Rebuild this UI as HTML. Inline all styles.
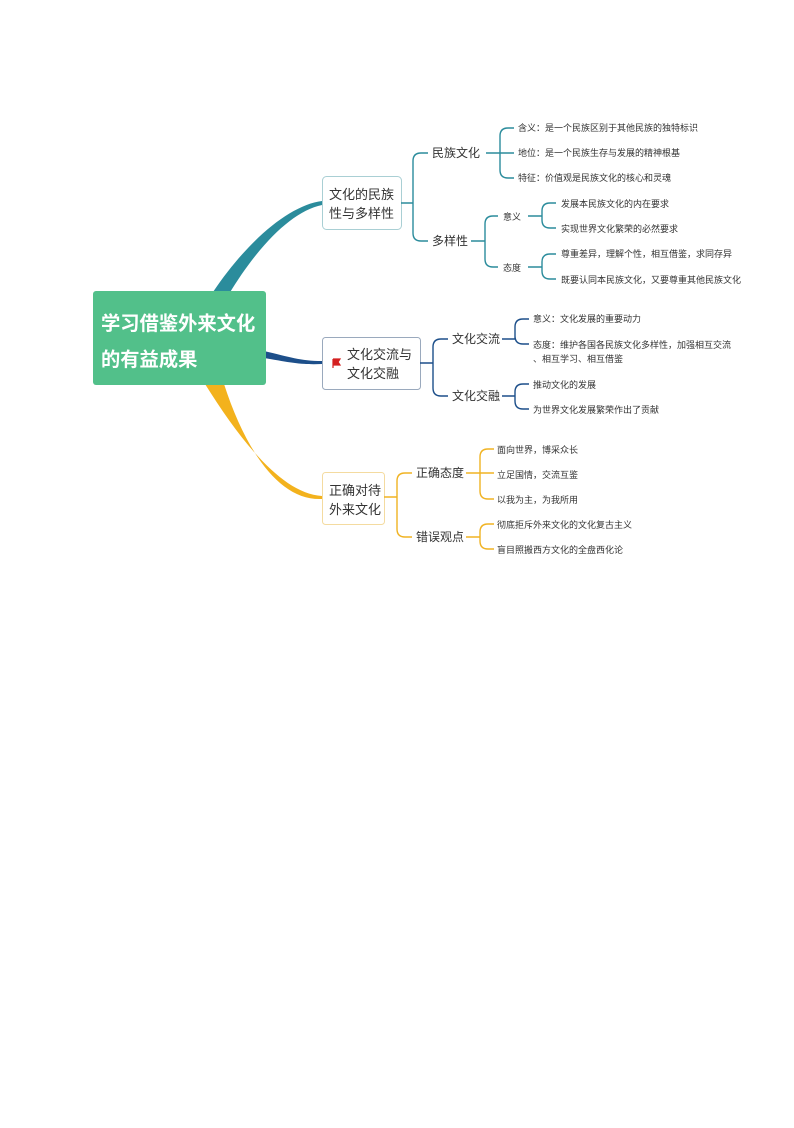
<!DOCTYPE html>
<html><head><meta charset="utf-8"><style>
html,body{margin:0;padding:0;background:#fff;}
svg text{font-family:"Liberation Sans","Noto Sans CJK SC",sans-serif;fill:#333;}
</style></head><body>
<svg width="794" height="1123" viewBox="0 0 794 1123" xmlns="http://www.w3.org/2000/svg">
<path d="M213 292 C248 240 290 205 322 201 L322 205 C292 211 258 246 229 294 Z" fill="#2b8c9c"/>
<path d="M264 351 C290 357 300 361 322 361 L322 364 C300 365 288 362 264 358 Z" fill="#1d4f8a"/>
<path d="M205 384 C240 440 282 494 322 496 L322 499 C280 501 246 452 224 384 Z" fill="#f3b21d"/>
<rect x="93" y="291" width="173" height="94" rx="3" fill="#52c08a"/>
<text x="101" y="330" font-size="19.3" font-weight="bold" style="fill:#fff">学习借鉴外来文化</text>
<text x="101" y="366" font-size="19.3" font-weight="bold" style="fill:#fff">的有益成果</text>
<rect x="322.5" y="176.5" width="79" height="53" rx="4" fill="#fff" stroke="#a9cfd4"/>
<text x="329" y="199" font-size="13">文化的民族</text>
<text x="329" y="218" font-size="13">性与多样性</text>
<rect x="322.5" y="337.5" width="98" height="52" rx="3" fill="#fff" stroke="#9aa9bd"/>
<path d="M333 359 V368 M333 359 H340 L338 362 L340 365 H333" stroke="#d42020" fill="#d42020" stroke-width="1.2"/>
<text x="347" y="359" font-size="13">文化交流与</text>
<text x="347" y="378" font-size="13">文化交融</text>
<rect x="322.5" y="472.5" width="62" height="52" rx="3" fill="#fff" stroke="#f4dba0"/>
<text x="329" y="495" font-size="13">正确对待</text>
<text x="329" y="514" font-size="13">外来文化</text>
<g fill="none" stroke-width="1.4">
<g stroke="#2b8c9c">
<path d="M401 203 H413 V161 Q413 153 421 153 H428 M413 203 V233 Q413 241 421 241 H428"/>
<path d="M486 153 H514 M500 153 V136 Q500 128 508 128 H514 M500 153 V170 Q500 178 508 178 H514"/>
<path d="M471 241 H485 V224 Q485 216 493 216 H498 M485 241 V259 Q485 267 493 267 H498"/>
<path d="M528 216 H542 V211 Q542 203 550 203 H556 M542 216 V220 Q542 228 550 228 H556"/>
<path d="M528 267 H542 V262 Q542 254 550 254 H556 M542 267 V271 Q542 279 550 279 H556"/>
</g>
<g stroke="#1d4f8a">
<path d="M420 363 H433 V347 Q433 339 441 339 H448 M433 363 V388 Q433 396 441 396 H448"/>
<path d="M502 339 H515 V327 Q515 319 523 319 H529 M515 339 V336 Q515 344 523 344 H529"/>
<path d="M502 396 H515 V392 Q515 384 523 384 H529 M515 396 V401 Q515 409 523 409 H529"/>
</g>
<g stroke="#f0b323">
<path d="M384 497 H397 V481 Q397 473 405 473 H412 M397 497 V529 Q397 537 405 537 H412"/>
<path d="M466 473 H494 M480 473 V457 Q480 449 488 449 H494 M480 473 V491 Q480 499 488 499 H494"/>
<path d="M466 537 H480 V532 Q480 524 488 524 H494 M480 537 V541 Q480 549 488 549 H494"/>
</g>
</g>
<g font-size="12">
<text x="432" y="157">民族文化</text>
<text x="432" y="245">多样性</text>
<text x="452" y="343">文化交流</text>
<text x="452" y="400">文化交融</text>
<text x="416" y="477">正确态度</text>
<text x="416" y="541">错误观点</text>
</g>
<g font-size="9">
<text x="503" y="220">意义</text>
<text x="503" y="271">态度</text>
<text x="518" y="131">含义：是一个民族区别于其他民族的独特标识</text>
<text x="518" y="156">地位：是一个民族生存与发展的精神根基</text>
<text x="518" y="181">特征：价值观是民族文化的核心和灵魂</text>
<text x="561" y="207">发展本民族文化的内在要求</text>
<text x="561" y="232">实现世界文化繁荣的必然要求</text>
<text x="561" y="257">尊重差异，理解个性，相互借鉴，求同存异</text>
<text x="561" y="283">既要认同本民族文化，又要尊重其他民族文化</text>
<text x="533" y="322">意义：文化发展的重要动力</text>
<text x="533" y="348">态度：维护各国各民族文化多样性，加强相互交流</text>
<text x="533" y="362">、相互学习、相互借鉴</text>
<text x="533" y="388">推动文化的发展</text>
<text x="533" y="413">为世界文化发展繁荣作出了贡献</text>
<text x="497" y="453">面向世界，博采众长</text>
<text x="497" y="478">立足国情，交流互鉴</text>
<text x="497" y="503">以我为主，为我所用</text>
<text x="497" y="528">彻底拒斥外来文化的文化复古主义</text>
<text x="497" y="553">盲目照搬西方文化的全盘西化论</text>
</g>
</svg>
</body></html>
